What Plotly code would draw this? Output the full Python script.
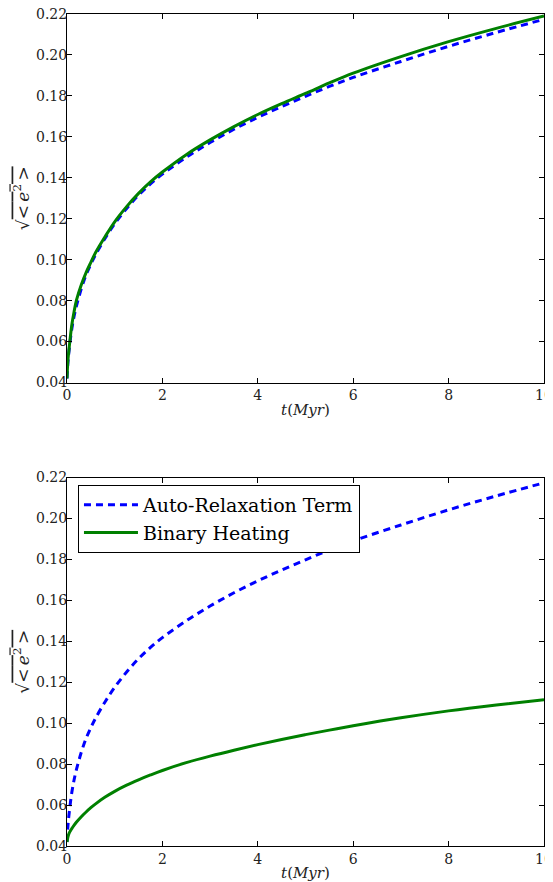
import plotly.graph_objects as go
from plotly.subplots import make_subplots

# time grid (Myr)
t = [0, 0.02, 0.05, 0.1, 0.15, 0.2, 0.3, 0.4, 0.5, 0.6, 0.8, 1.0, 1.25, 1.5, 1.75,
     2.0, 2.5, 3.0, 3.5, 4.0, 4.5, 5.0, 5.5, 6.0, 7.0, 8.0, 9.0, 10.0]

# top panel: both terms
top_auto = [0.042, 0.050, 0.057, 0.066, 0.0725, 0.0775, 0.0858, 0.0925, 0.0978, 0.1025,
            0.1105, 0.1175, 0.1250, 0.1315, 0.1370, 0.1418, 0.1500, 0.1572, 0.1637,
            0.1695, 0.1748, 0.1798, 0.1846, 0.1890, 0.1968, 0.2042, 0.2110, 0.2174]
top_binary = [0.042, 0.051, 0.058, 0.068, 0.0748, 0.0804, 0.0878, 0.0937, 0.0987, 0.1035,
              0.1113, 0.1185, 0.1259, 0.1324, 0.1380, 0.1428, 0.1513, 0.1585, 0.1650,
              0.1709, 0.1762, 0.1812, 0.1863, 0.1911, 0.1992, 0.2065, 0.2130, 0.2190]

# bottom panel
bot_auto = top_auto
bot_binary = [0.042, 0.0445, 0.0465, 0.0485, 0.0502, 0.0517, 0.0543, 0.0566, 0.0587, 0.0606,
              0.0639, 0.0667, 0.0697, 0.0723, 0.0747, 0.0769, 0.0807, 0.0839, 0.0868,
              0.0895, 0.0920, 0.0944, 0.0966, 0.0987, 0.1026, 0.1060, 0.1089, 0.1115]

series_names = ["Auto-Relaxation Term", "Binary Heating"]
x_ticks = [0, 2, 4, 6, 8, 10]
y_ticks = [0.04, 0.06, 0.08, 0.10, 0.12, 0.14, 0.16, 0.18, 0.20, 0.22]

BLUE = "#0000ff"
GREEN = "#008000"
FONT = "DejaVu Serif"

# page body has an 8px margin: figure coordinates are page - 8
W, H = 553, 874
fig = make_subplots(rows=2, cols=1, vertical_spacing=95 / 832)

def add_pair(auto, binary, row, show):
    fig.add_trace(go.Scatter(x=t, y=auto, mode="lines", name=series_names[0],
                             line=dict(color=BLUE, width=3, dash="7px,5px", shape="spline"),
                             showlegend=show), row=row, col=1)
    fig.add_trace(go.Scatter(x=t, y=binary, mode="lines", name=series_names[1],
                             line=dict(color=GREEN, width=3, shape="spline"),
                             showlegend=show), row=row, col=1)

add_pair(top_auto, top_binary, 1, False)
add_pair(bot_auto, bot_binary, 2, True)

ytitle = ("√<span style='text-decoration:overline'>&lt;&#8201;<i>e</i><sup>2</sup>&#8201;&gt;</span>")

for r in (1, 2):
    fig.update_xaxes(row=r, col=1, range=[0, 10], tickvals=x_ticks,
                     ticktext=[str(v) for v in x_ticks], automargin=False,
                     ticklabeloverflow="allow",
                     showline=True, linecolor="black", linewidth=1, mirror="ticks",
                     ticks="inside", ticklen=5, tickcolor="black", showgrid=False,
                     zeroline=False, tickfont=dict(family=FONT, size=14, color="#222"),
                     title=dict(text="<i>t</i>(<i>Myr</i>)", standoff=2,
                                font=dict(family=FONT, size=15, color="#222")))
    fig.update_yaxes(row=r, col=1, range=[0.04, 0.22], tickvals=y_ticks,
                     ticktext=["%.2f" % v for v in y_ticks], automargin=False,
                     ticklabeloverflow="allow", ticklabelstandoff=-4,
                     showline=True, linecolor="black", linewidth=1, mirror="ticks",
                     ticks="inside", ticklen=5, tickcolor="black", showgrid=False,
                     zeroline=False, tickfont=dict(family=FONT, size=14, color="#222"),
                     title=dict(text=ytitle, standoff=2,
                                font=dict(family=FONT, size=17, color="#222")))

fig.update_layout(
    width=W, height=H,
    margin=dict(l=59, r=17, t=6, b=36),
    paper_bgcolor="white", plot_bgcolor="white",
    legend=dict(x=0.023, y=0.434, xanchor="left", yanchor="top",
                bordercolor="black", borderwidth=1, bgcolor="white",
                font=dict(family=FONT, size=19, color="black"),
                tracegroupgap=0, itemwidth=54),
)

fig.write_html("out.html")
